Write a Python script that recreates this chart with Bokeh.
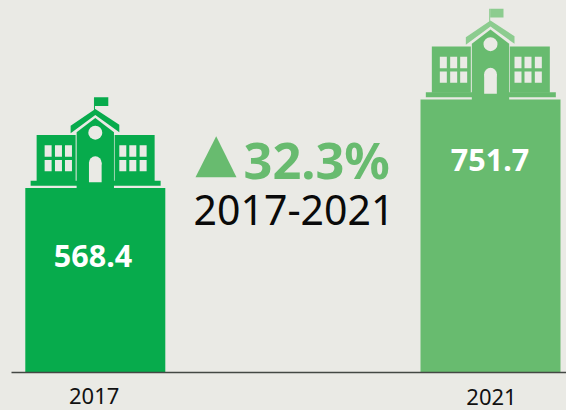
from bokeh.plotting import figure
from bokeh.models import Range1d
from bokeh.core.properties import value
from bokeh.embed import file_html
from bokeh.resources import INLINE

BG = "#eaeae5"
FONT = value("Noto Sans")

years = ["2017", "2021"]
amounts = ["568.4", "751.7"]
bar_heights = [184.5, 273]
bar_centers = [94.8, 490]
bar_colors = ["#07ab4c", "#68bb6f"]
roof_colors = ["#07ab4c", "#8ccc8f"]
change_label = "32.3%"
period_label = "2017-2021"

p = figure(width=566, height=410, x_range=Range1d(0, 566), y_range=Range1d(-38, 372),
           output_backend="svg", toolbar_location=None, min_border=0,
           background_fill_color=BG, border_fill_color=BG, outline_line_color=None)
p.axis.visible = False
p.grid.visible = False

# bars
p.vbar(x=bar_centers, top=bar_heights, bottom=0, width=140, color=bar_colors, line_color=None)


def u(pts, cx, base):
    return [cx + (x - 254) / 3 for x, _ in pts], [base + (322 - y) / 3 for _, y in pts]


def box(x0, y0, x1, y1):
    return [(x0, y0), (x1, y0), (x1, y1), (x0, y1)]


for cx, base, col, roof in zip(bar_centers, bar_heights, bar_colors, roof_colors):
    solid = [
        box(60, 300, 450, 315),
        box(78, 163, 195, 302),
        box(312, 163, 432, 302),
        [(198, 324), (198, 155), (254, 112), (310, 155), (310, 324)],
    ]
    for s in solid:
        xs, ys = u(s, cx, base)
        p.patch(xs, ys, color=col, line_color=None)
    for s in [[(180, 135), (254, 85), (326, 132), (326, 155), (254, 103), (180, 158)],
              box(250, 50, 253, 90), box(253, 50, 293, 76)]:
        xs, ys = u(s, cx, base)
        p.patch(xs, ys, color=roof, line_color=None)
    holes = []
    for yy in [(194, 228), (238, 272)]:
        for xx in [(102, 123), (133, 154), (163, 184), (326, 347), (356, 377), (387, 408)]:
            holes.append(box(xx[0], yy[0], xx[1], yy[1]))
    for s in holes:
        xs, ys = u(s, cx, base)
        p.patch(xs, ys, color=BG, line_color=None)
    xs, ys = u(box(235, 246, 273, 305), cx, base)
    p.patch(xs, ys, color=BG, line_color=None)
    xs, ys = u([(254, 246)], cx, base)
    p.ellipse(xs, ys, width=38 / 3, height=38 / 3, color=BG, line_color=None)
    xs, ys = u([(254, 156)], cx, base)
    p.ellipse(xs, ys, width=42 / 3, height=42 / 3, color=BG, line_color=None)

# baseline
p.line([11, 566], [0, 0], line_color="#444844", line_width=1.6)

# labels
p.text([92.5, 489.5], [117, 213], text=amounts, text_color="white", text_font=FONT,
       text_font_style="bold", text_font_size="30.5px", text_align="center", text_baseline="middle")
p.text([93.7, 491], [-23, -24], text=years, text_color="#111111", text_font=FONT,
       text_font_size="22px", text_align="center", text_baseline="middle")
p.patch([195, 236, 215.7], [195.3, 195.3, 236.3], color="#68bb6f", line_color=None)
p.text([243], [213], text=[change_label], text_color="#68bb6f", text_font=FONT,
       text_font_style="bold", text_font_size="50.5px", text_align="left", text_baseline="middle")
p.text([293.5], [163], text=[period_label], text_color="#0a0a0a", text_font=FONT,
       text_font_size="41px", text_align="center", text_baseline="middle")

html = file_html(p, INLINE)
html = html.replace("</head>", f"<style>html,body{{margin:0;padding:0;background:{BG};overflow:hidden}}</style></head>", 1)
open("out.html", "w").write(html)
